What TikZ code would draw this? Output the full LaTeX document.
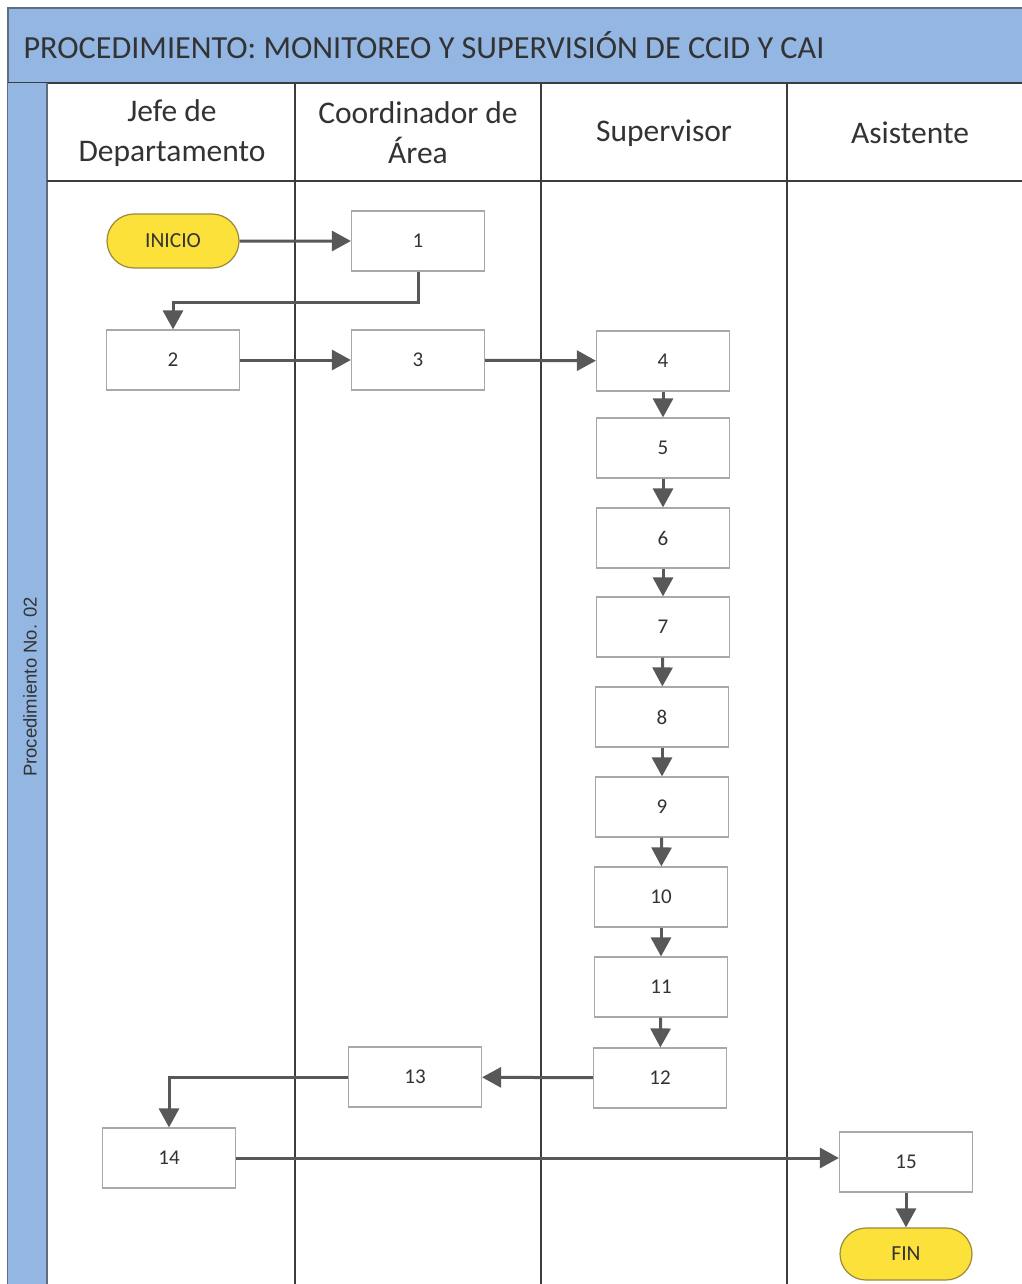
\documentclass[tikz,border=0pt]{standalone}
\usepackage{fontspec}
\setmainfont{Carlito}
\newfontfamily\stripfont{Liberation Sans}
\usetikzlibrary{arrows.meta,shapes.misc}
\definecolor{bandblue}{HTML}{93B6E2}
\definecolor{bandedge}{HTML}{5E6E80}
\definecolor{laneline}{HTML}{3C3C3C}
\definecolor{boxedge}{HTML}{A8A8A8}
\definecolor{arrowgray}{HTML}{585858}
\definecolor{termyellow}{HTML}{FBE13A}
\definecolor{termedge}{HTML}{9A8A3A}
\definecolor{txtgray}{HTML}{333333}
\begin{document}
\begin{tikzpicture}[x=1pt,y=-1pt,
  stepbox/.style={draw=boxedge,line width=1.2pt,fill=white,minimum width=133pt,minimum height=60pt,inner sep=0pt,font=\fontsize{21}{23}\selectfont,text=txtgray},
  termbox/.style={draw=termedge,line width=1.2pt,fill=termyellow,rounded rectangle,minimum width=132pt,minimum height=54pt,inner sep=0pt,font=\fontsize{21.5}{23}\selectfont,text=txtgray},
  lanehead/.style={font=\fontsize{31.5}{40}\selectfont,text=txtgray,align=center},
  flow/.style={draw=arrowgray,line width=3pt,-{Triangle[length=19pt,width=20pt]}},
  lane/.style={draw=laneline,line width=1.8pt}]
\useasboundingbox (0,0) rectangle (1021,1284);
\fill[white] (0,0) rectangle (1021,1284);
% title band
\fill[bandblue] (8,8) rectangle (1030,83);
\draw[bandedge,line width=1.5pt] (1030,8) -- (8,8) -- (8,1290);
\draw[laneline,line width=1.8pt] (8,83) -- (1030,83);
\node[anchor=west,font=\fontsize{32.2}{36}\selectfont,text=txtgray] (title) at (20,45) {PROCEDIMIENTO: MONITOREO Y SUPERVISIÓN DE CCID Y CAI};
% left strip
\fill[bandblue] (8,83) rectangle (47,1290);
\draw[bandedge,line width=1.5pt] (47,83) -- (47,1290);
\node[rotate=90,font=\stripfont\fontsize{18.5}{20}\selectfont,text=txtgray] (strip) at (30,687) {Procedimiento No. 02};
% lanes
\draw[lane] (47,181) -- (1030,181);
\foreach \x in {295,541,787} {\draw[lane] (\x,83) -- (\x,1290);}
\node[lanehead] (h1) at (172,133) {Jefe de\\Departamento};
\node[lanehead] (h2) at (418,133) {Coordinador de\\Área};
\node[lanehead] (h3) at (664,133) {Supervisor};
\node[lanehead] (h4) at (910,133) {Asistente};
% nodes
\node[termbox] (ini) at (173,241) {INICIO};
\node[stepbox] (n1) at (418,241) {1};
\node[stepbox] (n2) at (173,360) {2};
\node[stepbox] (n3) at (418,360) {3};
\node[stepbox] (n4) at (663,361) {4};
\node[stepbox] (n5) at (663,448) {5};
\node[stepbox] (n6) at (663,538) {6};
\node[stepbox] (n7) at (663,627) {7};
\node[stepbox] (n8) at (662,717) {8};
\node[stepbox] (n9) at (662,807) {9};
\node[stepbox] (n10) at (661,897) {10};
\node[stepbox] (n11) at (661,987) {11};
\node[stepbox] (n12) at (660,1078) {12};
\node[stepbox] (n13) at (415,1077) {13};
\node[stepbox] (n14) at (169,1158) {14};
\node[stepbox] (n15) at (906,1162) {15};
\node[termbox,minimum height=52pt] (fin) at (906,1254) {FIN};
% connectors
\draw[flow] (ini) -- (n1);
\draw[flow] (n1.south) -- ++(0,31) -| (n2.north);
\draw[flow] (n2) -- (n3);
\draw[flow] (n3) -- (n4);
\draw[flow] (n4) -- (n5);
\draw[flow] (n5) -- (n6);
\draw[flow] (n6) -- (n7);
\draw[flow] (n7) -- (n8);
\draw[flow] (n8) -- (n9);
\draw[flow] (n9) -- (n10);
\draw[flow] (n10) -- (n11);
\draw[flow] (n11) -- (n12);
\draw[flow] (n12) -- (n13);
\draw[flow] (n13.west) -| (n14.north);
\draw[flow] (n14.east) -- (n14.east -| n15.west);
\draw[flow] (n15) -- (fin);
\end{tikzpicture}
\end{document}
